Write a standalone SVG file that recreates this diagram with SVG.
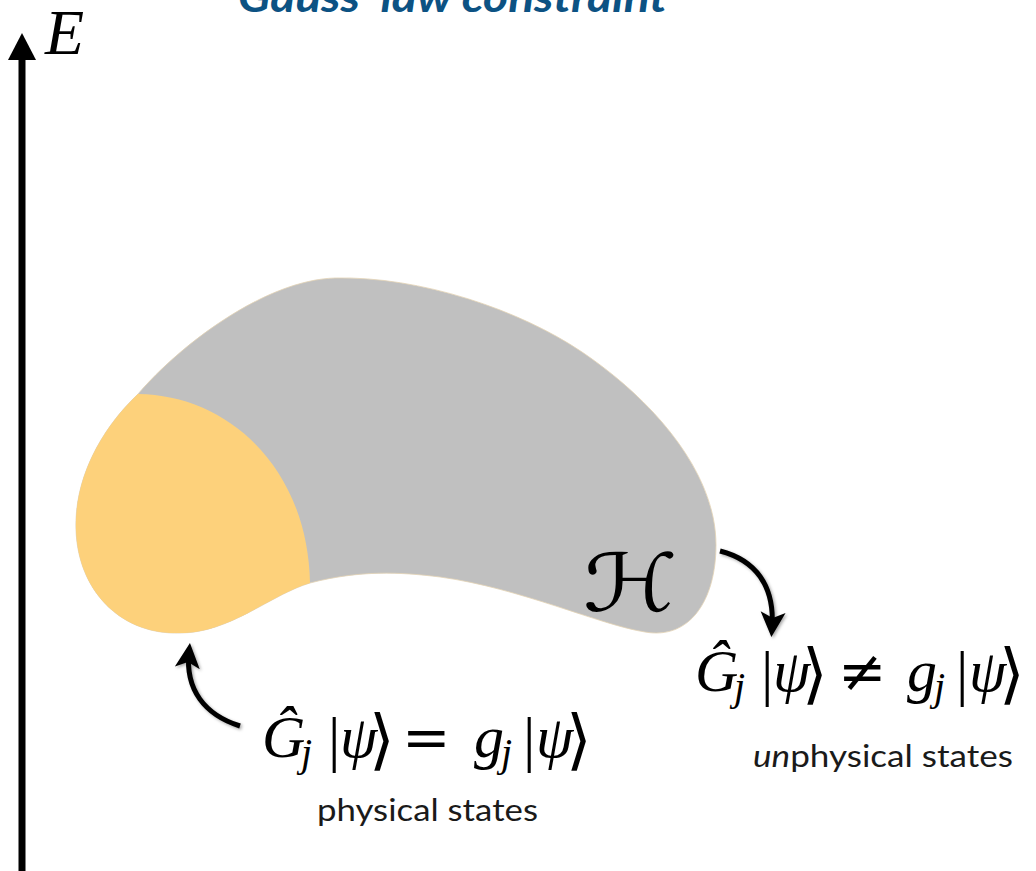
<svg xmlns="http://www.w3.org/2000/svg" width="1036" height="871" viewBox="0 0 1036 871">
<style>
.eq{font-family:"Liberation Serif","DejaVu Serif",serif;font-size:60px;fill:#000}
.title{font-family:Lato,"Noto Sans",sans-serif;font-weight:bold;font-style:italic;font-size:42px;fill:#0C5283}
.mi{font-family:"Liberation Serif","DejaVu Serif",serif;font-style:italic;font-size:60px}
.op{font-family:"DejaVu Serif","Liberation Serif",serif;font-style:normal;font-size:58px}
.bar{font-family:"Liberation Serif",serif;font-style:normal;font-size:62px}
.br{font-family:"DejaVu Serif",serif;font-style:normal;font-size:66px}
.sub{font-family:"Liberation Serif","DejaVu Serif",serif;font-style:italic;font-size:40px}
.lbl{font-family:Lato,"Noto Sans",sans-serif;font-size:31px;fill:#1a1a1a}
.conn{fill:none;stroke:#000;stroke-width:5;stroke-linecap:butt}
</style>
<defs>
<marker id="ah" markerWidth="6" markerHeight="6" refX="3.2" refY="2.5" orient="auto" markerUnits="strokeWidth" viewBox="0 0 6 5">
<path d="M0,0 L5,2.5 L0,5 L1.2,2.5 Z" fill="#000"/>
</marker>
<filter id="sh" x="-20%" y="-20%" width="140%" height="140%">
<feDropShadow dx="1.5" dy="1.5" stdDeviation="1.5" flood-color="#000" flood-opacity="0.35"/>
</filter>
</defs>
<rect width="1036" height="871" fill="#fff"/>

<g id="title">
<text class="title" x="238" y="12" textLength="429" lengthAdjust="spacingAndGlyphs">Gauss’ law constraint</text>
</g>

<g id="axis">
<line x1="22" y1="56" x2="22" y2="871" stroke="#000" stroke-width="7"/>
<path d="M22,33 L36,60 L8,60 Z" fill="#000"/>
<text x="45" y="54" font-family="Liberation Serif,serif" font-style="italic" font-size="64">E</text>
</g>

<g id="hilbert">
<path d="M138,394 C180,345 265,280 335,278 C420,276 520,310 582,352 C650,398 716,470 716,545 C716,600 690,640 645,632 C600,625 520,588 440,577 C400,572 360,570 310,583 C270,595 230,633 180,633 C120,635 78,590 76,530 C74,480 100,430 138,394 Z" fill="#C0C0C0" stroke="#E3D3B5" stroke-width="0.8"/>
<text x="0" y="0" font-family="DejaVu Serif,DejaVu Sans,serif" font-style="italic" font-size="80" transform="translate(583,611) scale(1.2,1)">ℋ</text>
</g>

<g id="physical">
<path d="M138,394 C230,395 308,470 310,583 C270,595 230,633 180,633 C120,635 78,590 76,530 C74,480 100,430 138,394 Z" fill="#FDD17B"/>
</g>

<g id="connectors" filter="url(#sh)">
<path class="conn" d="M240,726 C205,715 185,690 189,652" marker-end="url(#ah)"/>
<path class="conn" d="M720,551 C755,560 775,585 772,628" marker-end="url(#ah)"/>
</g>

<g id="eq-physical">
<text class="eq" y="757"><tspan class="mi" x="262" y="757">Ĝ</tspan><tspan class="sub" x="301" y="766">j</tspan><tspan class="bar" x="328" y="760">|</tspan><tspan class="mi" x="340" y="757">ψ</tspan><tspan class="br" x="369" y="762">⟩</tspan><tspan class="op" x="402" y="757">=</tspan><tspan class="mi" x="474" y="757">g</tspan><tspan class="sub" x="501" y="766">j</tspan><tspan class="bar" x="523" y="760">|</tspan><tspan class="mi" x="536" y="757">ψ</tspan><tspan class="br" x="566" y="762">⟩</tspan></text>
<text class="lbl" x="317" y="821" textLength="221" lengthAdjust="spacingAndGlyphs">physical states</text>
</g>

<g id="eq-unphysical">
<text class="eq" y="691"><tspan class="mi" x="695" y="691">Ĝ</tspan><tspan class="sub" x="734" y="700">j</tspan><tspan class="bar" x="761" y="694">|</tspan><tspan class="mi" x="773" y="691">ψ</tspan><tspan class="br" x="802" y="696">⟩</tspan><tspan class="op" x="838" y="691">≠</tspan><tspan class="mi" x="907" y="691">g</tspan><tspan class="sub" x="934" y="700">j</tspan><tspan class="bar" x="956" y="694">|</tspan><tspan class="mi" x="969" y="691">ψ</tspan><tspan class="br" x="999" y="696">⟩</tspan></text>
<text class="lbl" x="753" y="767" textLength="260" lengthAdjust="spacingAndGlyphs"><tspan font-style="italic">un</tspan>physical states</text>
</g>
</svg>
